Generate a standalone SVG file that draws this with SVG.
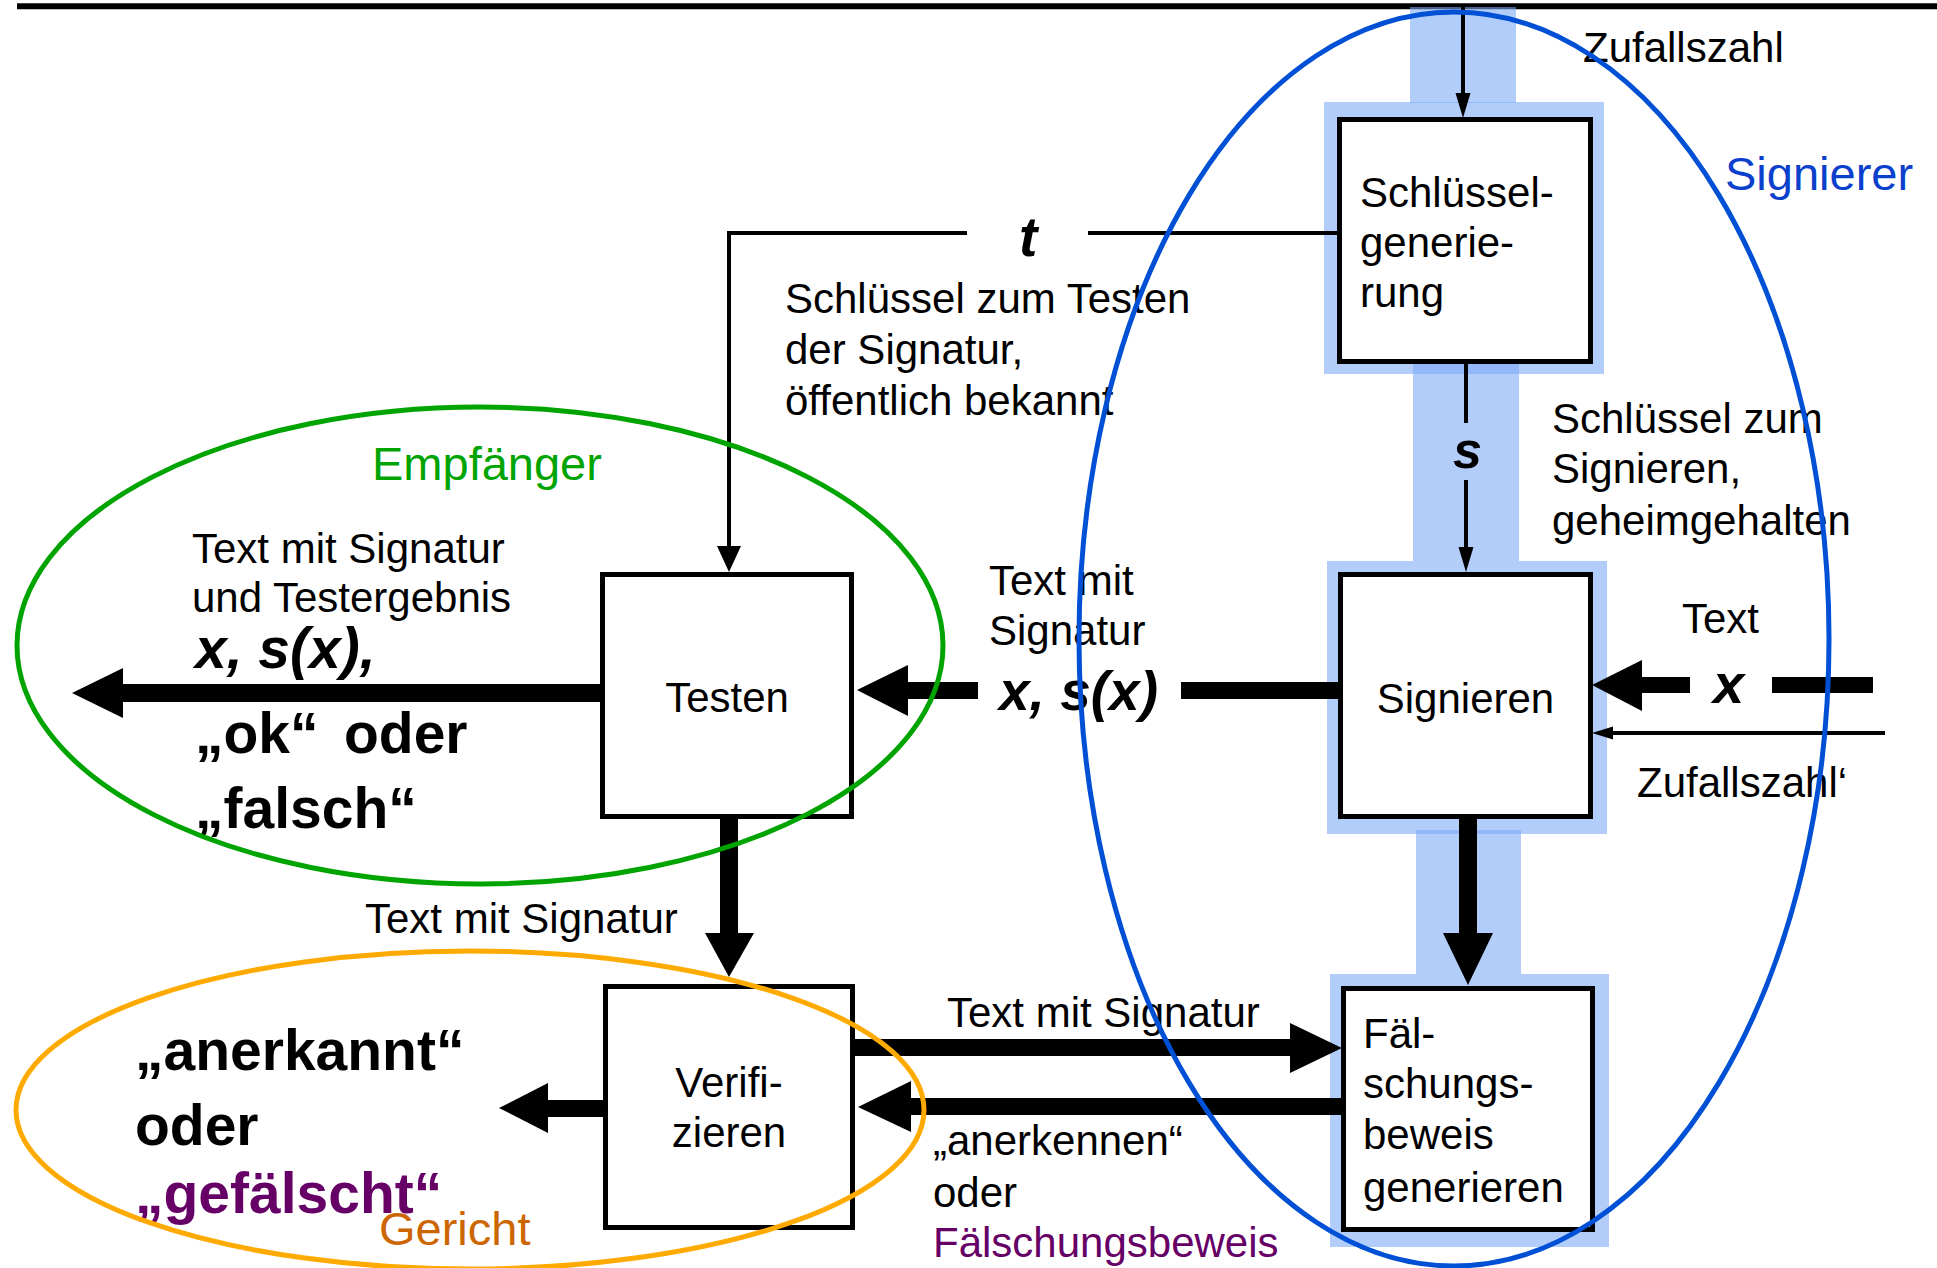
<svg xmlns="http://www.w3.org/2000/svg" width="1937" height="1268" viewBox="0 0 1937 1268">
  <style>
    text { font-family: "Liberation Sans", Arial, sans-serif; font-size: 42px; fill: #000; }
    .b { font-weight: bold; font-size: 57px; }
    .bi { font-weight: bold; font-style: italic; font-size: 57px; }
    .big { font-size: 47px; }
    .box { fill: #fff; stroke: #000; stroke-width: 5; }
    .hl { fill: rgb(124,169,248); fill-opacity: 0.58; stroke: none; }
    .thin { fill: none; stroke: #000; stroke-width: 4; }
    .thick { fill: #000; stroke: none; }
    .region { fill: none; stroke-width: 5; }
    .purple { fill: #660066; }
  </style>

  <!-- rule at the top -->
  <line x1="17" y1="6.3" x2="1937" y2="6.3" stroke="#000" stroke-width="6"/>

  <!-- highlighted signer path (translucent bands) -->
  <g id="signer-path">
    <rect class="hl" x="1410" y="7" width="106" height="96"/>
    <rect class="hl" x="1324" y="102" width="280" height="272"/>
    <rect class="hl" x="1413" y="364" width="106" height="197"/>
    <rect class="hl" x="1327" y="561" width="280" height="273"/>
    <rect class="hl" x="1416" y="830" width="105" height="144"/>
    <rect class="hl" x="1330" y="974" width="279" height="273"/>
  </g>

  <!-- connectors -->
  <g id="connectors">
    <!-- random number into key generation -->
    <line class="thin" x1="1463" y1="7" x2="1463" y2="96"/>
    <polygon class="thick" points="1455.5,93 1470.5,93 1463,118"/>

    <!-- public test key t -->
    <polyline class="thin" points="1337,233 1088,233"/>
    <polyline class="thin" points="967,233 729,233 729,550"/>
    <polygon class="thick" points="717,546 741,546 729,572"/>

    <!-- secret signing key s -->
    <line class="thin" x1="1466" y1="364" x2="1466" y2="423"/>
    <line class="thin" x1="1466" y1="480" x2="1466" y2="550"/>
    <polygon class="thick" points="1458.5,547 1473.5,547 1466,572"/>

    <!-- text x into Signieren -->
    <rect class="thick" x="1772" y="677" width="101" height="16"/>
    <rect class="thick" x="1640" y="677" width="50" height="16"/>
    <polygon class="thick" points="1642,660 1642,711 1592,685"/>

    <!-- random number' into Signieren -->
    <line class="thin" x1="1885" y1="733" x2="1610" y2="733"/>
    <polygon class="thick" points="1613,726.5 1613,739.5 1592,733"/>

    <!-- signed text x, s(x) to Testen -->
    <rect class="thick" x="1181" y="682" width="157" height="17"/>
    <rect class="thick" x="906" y="682" width="72" height="17"/>
    <polygon class="thick" points="908,665 908,716 857,690"/>

    <!-- Testen output -->
    <rect class="thick" x="121" y="684" width="479" height="18"/>
    <polygon class="thick" points="123,668 123,718 72,693"/>

    <!-- Testen to Verifizieren -->
    <rect class="thick" x="720" y="819" width="18" height="116"/>
    <polygon class="thick" points="705,933 754,933 729,977"/>

    <!-- Signieren to Faelschungsbeweis -->
    <rect class="thick" x="1459" y="819" width="18" height="116"/>
    <polygon class="thick" points="1443,933 1493,933 1468,985"/>

    <!-- Verifizieren to Faelschungsbeweis and back -->
    <rect class="thick" x="855" y="1039" width="437" height="17"/>
    <polygon class="thick" points="1290,1023 1290,1073 1342,1048"/>
    <rect class="thick" x="909" y="1098" width="434" height="17"/>
    <polygon class="thick" points="911,1081 911,1132 858,1107"/>

    <!-- Verifizieren verdict -->
    <rect class="thick" x="546" y="1100" width="58" height="17"/>
    <polygon class="thick" points="548,1083 548,1133 499,1108"/>
  </g>

  <!-- nodes -->
  <g id="node-schluesselgenerierung">
    <rect class="box" x="1339.5" y="119.5" width="251" height="242"/>
    <text x="1360" y="207">Schlüssel-</text>
    <text x="1360" y="257">generie-</text>
    <text x="1360" y="307">rung</text>
  </g>

  <g id="node-testen">
    <rect class="box" x="602.5" y="574.5" width="249" height="242"/>
    <text x="727" y="712" text-anchor="middle">Testen</text>
  </g>

  <g id="node-signieren">
    <rect class="box" x="1340.5" y="574.5" width="250" height="242"/>
    <text x="1465.5" y="713" text-anchor="middle">Signieren</text>
  </g>

  <g id="node-verifizieren">
    <rect class="box" x="605.5" y="986.5" width="247" height="241"/>
    <text x="729" y="1097" text-anchor="middle">Verifi-</text>
    <text x="729" y="1147" text-anchor="middle">zieren</text>
  </g>

  <g id="node-faelschungsbeweis">
    <rect class="box" x="1343.5" y="988.5" width="249" height="241"/>
    <text x="1363" y="1048">Fäl-</text>
    <text x="1363" y="1098">schungs-</text>
    <text x="1363" y="1149">beweis</text>
    <text x="1363" y="1202">generieren</text>
  </g>

  <!-- connector labels -->
  <g id="labels">
    <text x="1583" y="62">Zufallszahl</text>

    <text class="bi" x="1019" y="256" style="font-size:55px">t</text>
    <text x="785" y="313">Schlüssel zum Testen</text>
    <text x="785" y="364">der Signatur,</text>
    <text x="785" y="415">öffentlich bekannt</text>

    <text class="bi" x="1453" y="468" style="font-size:52px">s</text>
    <text x="1552" y="433">Schlüssel zum</text>
    <text x="1552" y="483">Signieren,</text>
    <text x="1552" y="535">geheimgehalten</text>

    <text x="1682" y="633">Text</text>
    <text class="bi" x="1713" y="703" style="font-size:56px">x</text>
    <text x="1637" y="797">Zufallszahl‘</text>

    <text x="989" y="595">Text mit</text>
    <text x="989" y="645">Signatur</text>
    <text class="bi" x="999" y="710" style="font-size:55px">x, s(x)</text>

    <text x="192" y="563">Text mit Signatur</text>
    <text x="192" y="612">und Testergebnis</text>
    <text class="bi" x="195" y="668">x, s(x),</text>
    <text class="b" x="195" y="753">„ok“</text>
    <text class="b" x="344" y="753">oder</text>
    <text class="b" x="195" y="828">„falsch“</text>

    <text x="365" y="933">Text mit Signatur</text>

    <text class="b" x="135" y="1070">„anerkannt“</text>
    <text class="b" x="135" y="1145">oder</text>
    <text class="b purple" x="135" y="1213">„gefälscht“</text>

    <text x="947" y="1027">Text mit Signatur</text>
    <text x="933" y="1155">„anerkennen“</text>
    <text x="933" y="1207">oder</text>
    <text class="purple" x="933" y="1257">Fälschungsbeweis</text>
  </g>

  <!-- parties -->
  <g id="party-signierer">
    <ellipse class="region" cx="1454" cy="639" rx="375" ry="627" stroke="#0050d6"/>
    <text class="big" x="1725" y="190" style="fill:#0a40cc">Signierer</text>
  </g>

  <g id="party-empfaenger">
    <ellipse class="region" cx="480" cy="645.5" rx="463" ry="238.5" stroke="#00a400"/>
    <text class="big" x="372" y="480" style="fill:#00a400">Empfänger</text>
  </g>

  <g id="party-gericht">
    <ellipse class="region" cx="470" cy="1110" rx="454" ry="159" stroke="#ffaa00"/>
    <text class="big" x="379" y="1245" style="fill:#cc6600">Gericht</text>
  </g>
</svg>
